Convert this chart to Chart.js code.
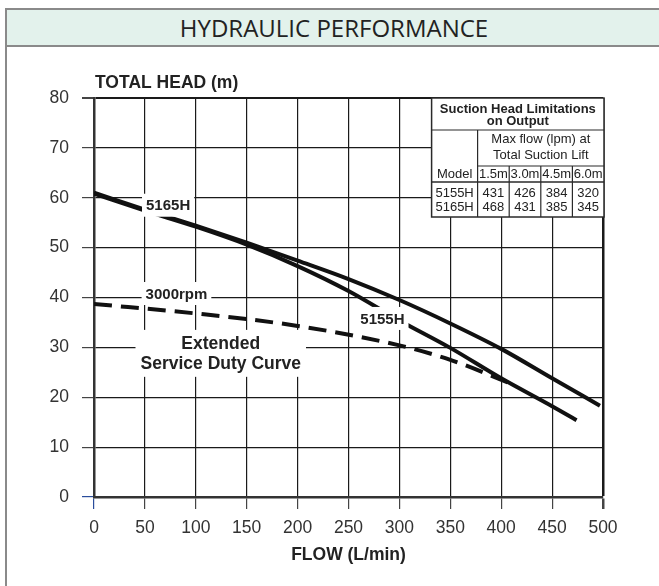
<!DOCTYPE html>
<html>
<head>
<meta charset="utf-8">
<script src="https://cdn.jsdelivr.net/npm/chart.js@4"></script>
<style>
  html, body { margin: 0; padding: 0; background: #fff; }
  #wrap { position: relative; width: 659px; height: 586px; overflow: hidden; }
  #frame {
    position: absolute; left: 5px; top: 8px; width: 700px; height: 600px;
    border-left: 2px solid #8a8a8a; border-top: 2px solid #8a8a8a;
  }
  #head {
    height: 35px; background: #e3f2ec; border-bottom: 2px solid #8a8a8a;
    font: 24px "Open Sans", sans-serif; color: #222; line-height: 36px;
    text-align: center; width: 654px;
  }
  #graph { position: absolute; left: 0; top: 0; }
</style>
</head>
<body>
<div id="wrap">
  <div id="frame"><div id="head">HYDRAULIC PERFORMANCE</div></div>
  <canvas id="graph" width="659" height="586"></canvas>
</div>
<script>
var ctx = document.getElementById("graph").getContext("2d");

// curves (flow L/min, head m)
const flow5165 = [0, 50, 100, 150, 200, 250, 300, 350, 400, 450, 497];
const head5165 = [61, 57.6, 54.4, 51, 47.4, 43.7, 39.5, 34.8, 29.7, 23.8, 18.3];
const flow5155 = [0, 50, 100, 150, 200, 250, 300, 350, 400, 450, 474];
const head5155 = [60.8, 57.4, 54.2, 50.6, 46.3, 41.3, 35.4, 29.9, 23.8, 18.2, 15.4];
const flowDuty = [0, 100, 200, 300, 350, 410];
const headDuty = [38.7, 36.8, 34.3, 30.4, 27.5, 22.7];

// labels on the curves
const curveNames = ["5165H", "3000rpm", "5155H"];
const curveNameAt = [[72.8, 58.5], [81, 40.8], [283.3, 35.8]];
const dutyText = ["Extended", "Service Duty Curve"];
const dutyAt = [[124.5, 30.9], [124.5, 26.9]];

// suction head table
const tableTitle = ["Suction Head Limitations", "on Output"];
const tableSub = ["Max flow (lpm) at", "Total Suction Lift"];
const liftCols = ["1.5m", "3.0m", "4.5m", "6.0m"];
const models = ["5155H", "5165H"];
const maxFlow5155 = [431, 426, 384, 320];
const maxFlow5165 = [468, 431, 385, 345];

const FONT = "'Liberation Sans', Arial, sans-serif";
const INK = "#111";
const BLUE = "#2a4d9c";

function pts(xs, ys) { return xs.map((x, i) => ({x: x, y: ys[i]})); }

function whiteLabel(c, text, cx, cy, size) {
    c.font = "bold " + size + "px " + FONT;
    let w = c.measureText(text).width;
    c.fillStyle = "#fff";
    c.fillRect(cx - w / 2 - 4, cy - size / 2 - 4, w + 8, size + 8);
    c.fillStyle = "#222";
    c.textAlign = "center";
    c.textBaseline = "middle";
    c.fillText(text, cx, cy + 1);
}

const annotations = {
    id: "annotations",
    afterDatasetsDraw(chart) {
        const c = chart.ctx;
        const {x, y} = chart.scales;
        const area = chart.chartArea;
        c.save();

        curveNames.forEach((t, i) => whiteLabel(c, t, x.getPixelForValue(curveNameAt[i][0]), y.getPixelForValue(curveNameAt[i][1]), 15));

        // extended duty block
        c.font = "bold 17.5px " + FONT;
        let w = Math.max(...dutyText.map(t => c.measureText(t).width));
        let cx = x.getPixelForValue(dutyAt[0][0]);
        let y0 = y.getPixelForValue(dutyAt[0][1]), y1 = y.getPixelForValue(dutyAt[1][1]);
        c.fillStyle = "#fff";
        c.fillRect(cx - w / 2 - 5, y0 - 13, w + 10, y1 - y0 + 27);
        c.fillStyle = "#222";
        c.textAlign = "center";
        c.textBaseline = "middle";
        c.fillText(dutyText[0], cx, y0 + 1);
        c.fillText(dutyText[1], cx, y1 + 1);

        // y title
        c.font = "bold 17.5px " + FONT;
        c.textAlign = "left";
        c.fillText("TOTAL HEAD (m)", area.left + 1, area.top - 15);

        // table
        const colW = [46, 31.6, 31.6, 31.6, 31.6];
        const rowH = [32, 36, 16, 35];
        const tw = colW.reduce((a, b) => a + b);
        const th = rowH.reduce((a, b) => a + b);
        const left = area.right + 1 - tw, top = area.top;
        const colX = [left];
        colW.forEach(v => colX.push(colX[colX.length - 1] + v));
        const r1 = top + rowH[0], r2 = r1 + rowH[1], r3 = r2 + rowH[2], bot = top + th;
        c.fillStyle = "#fff";
        c.fillRect(left, top, tw, th);
        c.strokeStyle = "#2a2a2a";
        c.lineWidth = 1.5;
        c.strokeRect(left, top, tw, th);
        function line(ax, ay, bx, by, lw) {
            c.lineWidth = lw;
            c.beginPath(); c.moveTo(ax, ay); c.lineTo(bx, by); c.stroke();
        }
        line(left, r1, left + tw, r1, 1.2);
        line(colX[1], r1, colX[1], bot, 1.2);
        line(colX[1], r2, left + tw, r2, 1.2);
        line(left, r3, left + tw, r3, 1.5);
        for (let i = 2; i < 5; i++) line(colX[i], r2, colX[i], bot, 1.2);

        c.fillStyle = "#222";
        c.textAlign = "center";
        c.textBaseline = "middle";
        c.font = "bold 13px " + FONT;
        c.fillText(tableTitle[0], left + tw / 2, top + 11);
        c.fillText(tableTitle[1], left + tw / 2, top + 23.5);
        c.font = "13px " + FONT;
        let subX = (colX[1] + colX[5]) / 2;
        c.fillText(tableSub[0], subX, r1 + 9.5);
        c.fillText(tableSub[1], subX, r1 + 25.5);
        c.fillText("Model", (colX[0] + colX[1]) / 2, r2 + 8);
        liftCols.forEach((t, i) => c.fillText(t, (colX[i + 1] + colX[i + 2]) / 2, r2 + 8));
        [maxFlow5155, maxFlow5165].forEach((row, j) => {
            let ry = r3 + 11 + j * 14;
            c.fillText(models[j], (colX[0] + colX[1]) / 2, ry);
            row.forEach((v, i) => c.fillText(String(v), (colX[i + 1] + colX[i + 2]) / 2, ry));
        });
        c.restore();
    }
};

var chart = new Chart(ctx, {
    type: "line",
    data: {
        datasets: [
            { label: "5165H", data: pts(flow5165, head5165), borderColor: INK, borderWidth: 4, pointRadius: 0, cubicInterpolationMode: "monotone" },
            { label: "5155H", data: pts(flow5155, head5155), borderColor: INK, borderWidth: 4, pointRadius: 0, cubicInterpolationMode: "monotone" },
            { label: "3000rpm", data: pts(flowDuty, headDuty), borderColor: INK, borderWidth: 4, borderDash: [18, 9], pointRadius: 0, cubicInterpolationMode: "monotone" }
        ]
    },
    options: {
        responsive: false,
        animation: false,
        layout: { padding: { left: 0, right: 56, top: 98, bottom: 20 } },
        plugins: { legend: { display: false }, tooltip: { enabled: false } },
        scales: {
            x: {
                type: "linear", min: 0, max: 500,
                afterFit: s => { s.height = 69; },
                ticks: { stepSize: 50, padding: 9, color: "#333", font: { family: FONT, size: 17.5 } },
                grid: {
                    color: "#1a1a1a",
                    lineWidth: c => c.tick && c.tick.value === 500 ? 2.5 : 1.2,
                    tickLength: 12,
                    tickColor: c => c.tick && c.tick.value === 0 ? BLUE : "#444"
                },
                border: { color: "#333", width: 2.5 },
                title: { display: true, text: "FLOW (L/min)", color: "#222", padding: 0, font: { family: FONT, size: 17.5, weight: "bold" } }
            },
            y: {
                min: 0, max: 80,
                afterFit: s => { s.width = 94; },
                ticks: { stepSize: 10, padding: 13, color: "#333", font: { family: FONT, size: 17.5 } },
                grid: {
                    color: "#1a1a1a",
                    lineWidth: c => c.tick && c.tick.value === 80 ? 2 : 1.2,
                    tickLength: 12,
                    tickColor: c => c.tick && c.tick.value === 0 ? BLUE : "#444"
                },
                border: { color: "#333", width: 2.5 }
            }
        }
    },
    plugins: [annotations]
});
</script>
</body>
</html>
